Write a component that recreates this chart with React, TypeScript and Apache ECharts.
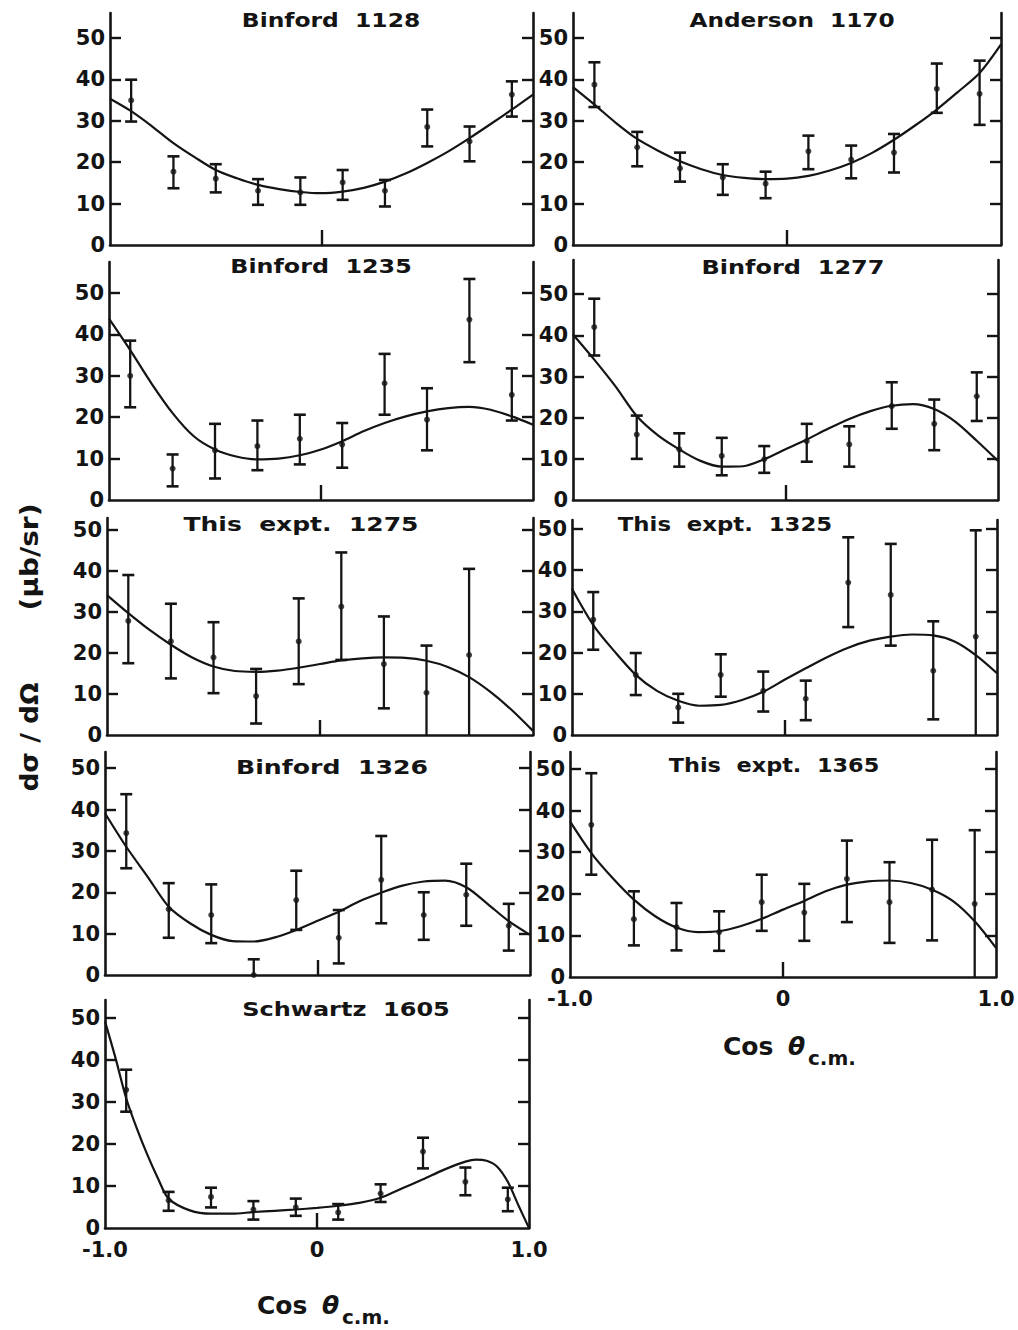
import React, { useEffect, useRef } from "react";
import * as echarts from "echarts";

// ---------- DATA ----------
const pointCos = [-0.9, -0.7, -0.5, -0.3, -0.1, 0.1, 0.3, 0.5, 0.7, 0.9];
const curveCos = [-1, -0.9, -0.8, -0.7, -0.6, -0.5, -0.4, -0.3, -0.2, -0.1, 0, 0.1, 0.2, 0.3, 0.4, 0.5, 0.6, 0.7, 0.8, 0.9, 1];
const schwartzCurveCos = [-1, -0.95, -0.9, -0.85, -0.8, -0.75, -0.7, -0.6, -0.5, -0.4, -0.3, -0.2, -0.1, 0, 0.1, 0.2, 0.3, 0.4, 0.5, 0.6, 0.7, 0.75, 0.8, 0.85, 0.9, 0.95, 1];

const yTickValues = [0, 10, 20, 30, 40, 50];
const xTickLabels = ["-1.0", "0", "1.0"];

const titles = [
  "Binford  1128",
  "Anderson  1170",
  "Binford  1235",
  "Binford  1277",
  "This  expt.  1275",
  "This  expt.  1325",
  "Binford  1326",
  "This  expt.  1365",
  "Schwartz  1605",
];

// Binford 1128
const b1128Val = [34.9, 17.7, 16.0, 13.1, 12.7, 15.1, 13.1, 28.5, 25.0, 36.3];
const b1128Hi = [39.9, 21.4, 19.5, 15.9, 16.3, 18.1, 15.7, 32.7, 28.6, 39.5];
const b1128Lo = [29.8, 13.7, 12.7, 9.7, 9.7, 10.9, 9.3, 23.8, 20.2, 31.0];
const b1128Curve = [35.3, 32.3, 28.6, 24.6, 21.2, 18.1, 16.1, 14.5, 13.5, 12.8, 12.5, 12.9, 13.8, 15.3, 17.3, 19.8, 22.6, 25.8, 29.2, 32.7, 36.3];

// Anderson 1170
const a1170Val = [38.7, 23.6, 18.5, 16.3, 14.8, 22.6, 20.6, 22.3, 37.7, 36.5];
const a1170Hi = [44.1, 27.3, 22.3, 19.5, 17.7, 26.4, 24.0, 26.8, 43.8, 44.5];
const a1170Lo = [33.3, 19.0, 15.3, 12.1, 11.3, 18.3, 16.1, 17.5, 31.9, 29.0];
const a1170Curve = [38.1, 33.9, 29.5, 25.6, 22.7, 20.2, 18.3, 16.9, 16.2, 15.9, 16.0, 16.7, 18.0, 19.8, 22.3, 25.4, 28.9, 32.7, 37.0, 41.5, 48.4];

// Binford 1235
const b1235Val = [30.0, 7.6, 12.0, 13.0, 14.8, 13.4, 28.2, 19.4, 43.6, 25.4];
const b1235Hi = [38.5, 11.0, 18.4, 19.2, 20.6, 18.6, 35.3, 27.0, 53.4, 31.8];
const b1235Lo = [22.4, 3.3, 5.2, 7.2, 8.6, 7.8, 20.6, 12.0, 33.3, 19.2];
const b1235Curve = [43.8, 36.2, 28.2, 21.0, 15.4, 12.2, 10.5, 9.8, 10.0, 10.8, 12.2, 14.2, 16.6, 18.6, 20.2, 21.4, 22.2, 22.5, 21.8, 20.2, 18.2];

// Binford 1277
const b1277Val = [42.0, 15.9, 12.3, 10.7, 9.9, 14.3, 13.5, 22.8, 18.5, 25.2];
const b1277Hi = [48.9, 20.5, 16.2, 15.1, 13.1, 18.5, 17.9, 28.6, 24.4, 31.0];
const b1277Lo = [35.1, 10.0, 8.1, 6.0, 6.6, 9.3, 8.1, 17.3, 12.1, 19.2];
const b1277Curve = [40.2, 34.1, 27.6, 20.4, 15.7, 12.3, 9.5, 8.1, 8.2, 9.9, 12.3, 14.7, 17.3, 19.7, 21.6, 22.9, 23.3, 22.1, 19.0, 14.4, 9.5];

// This expt. 1275
const e1275Val = [27.8, 22.8, 18.9, 9.5, 22.8, 31.3, 17.3, 10.3, 19.5];
const e1275Hi = [39.0, 32.0, 27.5, 16.1, 33.3, 44.5, 28.9, 21.8, 40.5];
const e1275Lo = [17.5, 13.8, 10.2, 2.8, 12.4, 18.3, 6.5, 0, 0];
const e1275Curve = [34.1, 29.7, 25.6, 22.0, 18.9, 16.7, 15.6, 15.4, 15.7, 16.4, 17.3, 18.2, 18.7, 18.9, 18.8, 18.1, 16.6, 14.1, 10.5, 6.1, 1.0];

// This expt. 1325
const e1325Val = [28.0, 14.6, 6.7, 14.6, 10.7, 8.8, 37.0, 34.0, 15.6, 23.9];
const e1325Hi = [34.7, 19.9, 10.0, 19.6, 15.4, 13.2, 48.0, 46.4, 27.6, 49.7];
const e1325Lo = [20.7, 9.7, 3.0, 9.3, 5.7, 3.6, 26.2, 21.7, 3.8, 0];
const e1325Curve = [35.5, 26.7, 20.3, 14.6, 10.7, 8.3, 7.1, 7.3, 8.5, 10.5, 13.4, 16.2, 18.9, 21.2, 22.9, 23.9, 24.4, 24.2, 22.7, 19.4, 15.0];

// Binford 1326
const b1326Val = [34.3, 15.9, 14.5, 0, 18.1, 9.0, 23.0, 14.5, 19.4, 11.9];
const b1326Hi = [43.7, 22.2, 21.9, 3.8, 25.2, 15.7, 33.6, 20.0, 26.9, 17.2];
const b1326Lo = [25.8, 9.0, 7.7, 0, 10.9, 2.8, 12.5, 8.5, 11.9, 5.9];
const b1326Curve = [39.1, 31.0, 23.8, 16.5, 12.5, 9.7, 8.2, 8.1, 9.1, 10.9, 13.1, 15.3, 17.9, 19.9, 21.6, 22.6, 22.8, 21.2, 17.2, 13.0, 9.7];

// This expt. 1365
const e1365Val = [36.6, 13.9, 12.0, 10.8, 18.0, 15.5, 23.6, 18.0, 21.0, 17.6];
const e1365Hi = [49.0, 20.6, 17.8, 15.8, 24.6, 22.4, 32.8, 27.6, 33.0, 35.3];
const e1365Lo = [24.6, 7.6, 6.4, 6.3, 11.1, 8.7, 13.2, 8.2, 8.8, 0];
const e1365Curve = [37.4, 29.8, 23.8, 18.6, 14.6, 11.9, 10.8, 11.0, 12.2, 14.0, 16.2, 18.3, 20.6, 22.2, 23.0, 23.2, 22.6, 21.0, 18.2, 13.4, 7.0];

// Schwartz 1605
const s1605Val = [32.9, 6.6, 7.4, 4.4, 4.9, 3.7, 8.2, 18.2, 11.0, 6.8];
const s1605Hi = [37.7, 8.6, 9.6, 6.4, 7.0, 5.7, 10.4, 21.5, 14.4, 9.6];
const s1605Lo = [27.7, 4.1, 4.9, 2.0, 2.9, 2.0, 6.2, 14.2, 7.8, 4.0];
const s1605Curve = [49.2, 40.4, 30.9, 23.7, 17.4, 11.8, 7.0, 4.2, 3.4, 3.4, 3.8, 4.1, 4.4, 4.8, 5.3, 6.0, 7.2, 9.4, 11.6, 13.9, 15.8, 16.3, 16.0, 14.6, 11.0, 5.4, 0];

// ---------- LAYOUT (pixels) ----------
const panelLeft = [110, 573, 109, 573, 107, 572, 105, 570, 105];
const panelRight = [533, 1001, 533, 998, 533, 997, 530, 996, 529];
const panelTop = [13, 13, 262, 260, 518, 520, 752, 752, 1000];
const panelZero = [245, 245, 500, 500, 735, 735, 975, 977, 1228];
const panelYMax = [56.0, 56.0, 57.5, 58.3, 52.9, 52.2, 53.9, 54.1, 54.3];
const titlePos = [
  [331, 20], [792, 20], [321, 266], [793, 267], [301, 524],
  [725, 524], [332, 767], [774, 765], [346, 1009],
];
const titleStretch = [1.17, 1.16, 1.19, 1.2, 1.25, 1.14, 1.26, 1.12, 1.2];
const showXLabels = [false, false, false, false, false, false, false, true, true];

const INK = "#141414";
const FONT = "'DejaVu Sans', 'Liberation Sans', sans-serif";

const panels = [
  { val: b1128Val, hi: b1128Hi, lo: b1128Lo, cx: curveCos, cy: b1128Curve },
  { val: a1170Val, hi: a1170Hi, lo: a1170Lo, cx: curveCos, cy: a1170Curve },
  { val: b1235Val, hi: b1235Hi, lo: b1235Lo, cx: curveCos, cy: b1235Curve },
  { val: b1277Val, hi: b1277Hi, lo: b1277Lo, cx: curveCos, cy: b1277Curve },
  { val: e1275Val, hi: e1275Hi, lo: e1275Lo, cx: curveCos, cy: e1275Curve },
  { val: e1325Val, hi: e1325Hi, lo: e1325Lo, cx: curveCos, cy: e1325Curve },
  { val: b1326Val, hi: b1326Hi, lo: b1326Lo, cx: curveCos, cy: b1326Curve },
  { val: e1365Val, hi: e1365Hi, lo: e1365Lo, cx: curveCos, cy: e1365Curve },
  { val: s1605Val, hi: s1605Hi, lo: s1605Lo, cx: schwartzCurveCos, cy: s1605Curve },
];

function buildOption() {
  const grid: any[] = [];
  const xAxis: any[] = [];
  const yAxis: any[] = [];
  const series: any[] = [];
  const graphic: any[] = [];
  const axisLineStyle = { color: INK, width: 2.6 };
  const tickLabelStyle = { color: INK, fontSize: 21, fontFamily: FONT, fontWeight: "bold" as const };

  panels.forEach((p, i) => {
    grid.push({
      left: panelLeft[i],
      top: panelTop[i],
      width: panelRight[i] - panelLeft[i],
      height: panelZero[i] - panelTop[i],
      containLabel: false,
      outerBoundsMode: "none",
    });
    xAxis.push({
      gridIndex: i,
      type: "value",
      min: -1,
      max: 1,
      interval: 1,
      axisLine: { show: true, onZero: false, lineStyle: axisLineStyle },
      axisTick: { show: true, inside: true, length: 15, customValues: [0], lineStyle: { color: INK, width: 2.4 } },
      axisLabel: {
        show: showXLabels[i],
        margin: 11,
        ...tickLabelStyle,
        formatter: (v: number) => (v < 0 ? xTickLabels[0] : v > 0 ? xTickLabels[2] : xTickLabels[1]),
        showMinLabel: true,
        showMaxLabel: true,
      },
      splitLine: { show: false },
    });
    yAxis.push({
      gridIndex: i,
      type: "value",
      position: "left",
      min: 0,
      max: panelYMax[i],
      interval: 10,
      axisLine: { show: true, onZero: false, lineStyle: axisLineStyle },
      axisTick: { show: true, inside: true, length: 11, customValues: yTickValues.slice(1), lineStyle: { color: INK, width: 2.4 } },
      axisLabel: {
        show: true,
        customValues: yTickValues,
        margin: 5,
        ...tickLabelStyle,
        formatter: (v: number) => (v <= 50 ? String(v) : ""),
      },
      splitLine: { show: false },
    });
    yAxis.push({
      gridIndex: i,
      type: "value",
      position: "right",
      min: 0,
      max: panelYMax[i],
      interval: 10,
      axisLine: { show: true, onZero: false, lineStyle: axisLineStyle },
      axisTick: { show: true, inside: true, length: 11, customValues: yTickValues.slice(1), lineStyle: { color: INK, width: 2.4 } },
      axisLabel: { show: false },
      splitLine: { show: false },
    });

    series.push({
      type: "line",
      xAxisIndex: i,
      yAxisIndex: 2 * i,
      data: p.cx.map((x, k) => [x, p.cy[k]]),
      smooth: 0.3,
      symbol: "none",
      lineStyle: { color: INK, width: 2.2 },
      z: 2,
    });
    series.push({
      type: "custom",
      xAxisIndex: i,
      yAxisIndex: 2 * i,
      data: p.val.map((_, k) => [pointCos[k], p.lo[k], p.hi[k]]),
      renderItem: (params: any, api: any) => {
        const x = api.value(0);
        const lo = api.value(1);
        const hi = api.value(2);
        const a = api.coord([x, hi]);
        const b = api.coord([x, lo]);
        const w = 6;
        const children: any[] = [
          { type: "line", shape: { x1: a[0], y1: a[1], x2: b[0], y2: b[1] }, style: { stroke: INK, lineWidth: 2.3 } },
          { type: "line", shape: { x1: a[0] - w, y1: a[1], x2: a[0] + w, y2: a[1] }, style: { stroke: INK, lineWidth: 2.6 } },
        ];
        if (lo > 0) {
          children.push({ type: "line", shape: { x1: b[0] - w, y1: b[1], x2: b[0] + w, y2: b[1] }, style: { stroke: INK, lineWidth: 2.6 } });
        }
        return { type: "group", children };
      },
      z: 3,
    });
    series.push({
      type: "scatter",
      xAxisIndex: i,
      yAxisIndex: 2 * i,
      data: p.val.map((v, k) => [pointCos[k], v]),
      symbol: "circle",
      symbolSize: 6,
      itemStyle: { color: INK },
      z: 4,
    });

    graphic.push({
      type: "text",
      x: titlePos[i][0],
      y: titlePos[i][1],
      scaleX: titleStretch[i],
      style: {
        text: titles[i],
        fill: INK,
        font: `bold 20px ${FONT}`,
        textAlign: "center",
        textVerticalAlign: "middle",
      },
    });
  });

  // y-axis name (rotated)
  graphic.push({
    type: "text",
    x: 29,
    y: 557,
    rotation: Math.PI / 2,
    scaleX: 1.12,
    style: { text: "(μb/sr)", fill: INK, font: `bold 25px ${FONT}`, textAlign: "center", textVerticalAlign: "middle" },
  });
  graphic.push({
    type: "text",
    x: 29,
    y: 737,
    rotation: Math.PI / 2,
    scaleX: 1.06,
    style: { text: "dσ / dΩ", fill: INK, font: `bold 25px ${FONT}`, textAlign: "center", textVerticalAlign: "middle" },
  });

  // x-axis names
  const xNames = [
    [257, 1305],
    [723, 1046],
  ];
  xNames.forEach(([x, y]) => {
    graphic.push({
      type: "text",
      x: x,
      y: y,
      style: { text: "Cos", fill: INK, font: `bold 25px ${FONT}`, textAlign: "left", textVerticalAlign: "middle" },
    });
    graphic.push({
      type: "text",
      x: x + 65,
      y: y,
      style: { text: "θ", fill: INK, font: `italic bold 25px ${FONT}`, textAlign: "left", textVerticalAlign: "middle" },
    });
    graphic.push({
      type: "text",
      x: x + 85,
      y: y + 12,
      style: { text: "c.m.", fill: INK, font: `bold 20px ${FONT}`, textAlign: "left", textVerticalAlign: "middle" },
    });
  });

  return {
    animation: false,
    backgroundColor: "#ffffff",
    grid,
    xAxis,
    yAxis,
    series,
    graphic,
  };
}

export default function App() {
  const ref = useRef<HTMLDivElement>(null);
  useEffect(() => {
    document.body.style.margin = "0";
    if (!ref.current) return;
    const chart = echarts.init(ref.current, null, { renderer: "svg" });
    chart.setOption(buildOption() as any);
    return () => chart.dispose();
  }, []);
  return <div ref={ref} style={{ width: 1018, height: 1330 }} />;
}
